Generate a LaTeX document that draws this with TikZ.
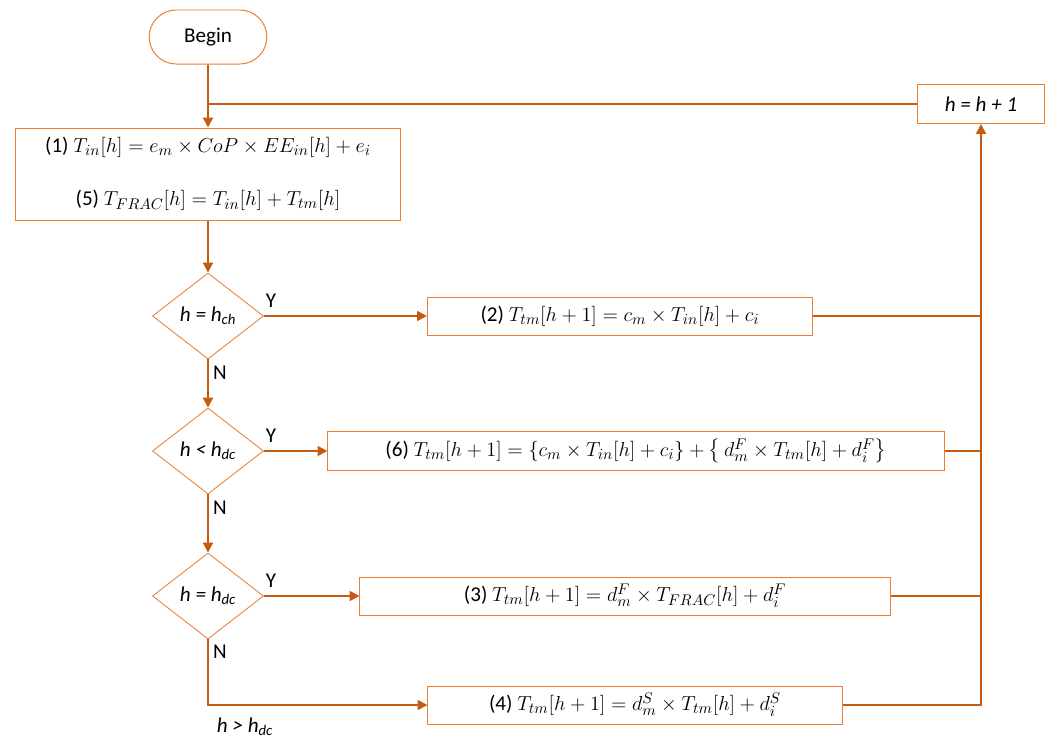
\documentclass[tikz,border=0pt]{standalone}
\usepackage{amsmath}
\usepackage{fontspec}
\setmainfont{Carlito}
\usetikzlibrary{arrows.meta,shapes.geometric,shapes.misc}
\definecolor{flowline}{HTML}{C55A11}
\definecolor{flowedge}{HTML}{ED7D31}
\tikzset{
	stepbox/.style={draw=flowedge,line width=0.7pt,rectangle,minimum height=0.95cm,inner sep=2pt},
	startbox/.style={draw=flowedge,line width=0.7pt,rounded rectangle,minimum width=3.175cm,minimum height=1.35cm},
	testbox/.style={draw=flowedge,line width=0.6pt,diamond,minimum width=2.775cm,minimum height=2.15cm,inner sep=0pt},
	flow/.style={draw=flowline,line width=1.4pt,-{Triangle[length=7pt,width=7pt]}},
	bus/.style={draw=flowline,line width=1.4pt},
}
\begin{document}
\begin{tikzpicture}[x=0.025cm,y=-0.025cm,font=\fontsize{15}{18}\selectfont]
	\useasboundingbox (0,0) rectangle (1051,738);
	%START AND LOOP
	\node[startbox] (begin) at (208,37) {Begin};
	\node[stepbox,minimum width=3.175cm,minimum height=0.975cm] (inc) at (981,104) {\itshape h = h + 1};
	\node[stepbox,minimum width=9.625cm,minimum height=2.3cm,align=center] (init) at (208,174)
		{(1) $T_{in}[h] = e_m \times CoP \times EE_{in}[h] + e_i$\\[0.7cm]
		 (5) $T_{FRAC}[h] = T_{in}[h] + T_{tm}[h]$};
	%
	%TESTS
	\node[testbox] (chk1) at (208,316) {\itshape h = h\textsubscript{ch}};
	\node[testbox] (chk2) at (208,451) {\itshape h < h\textsubscript{dc}};
	\node[testbox] (chk3) at (208,596) {\itshape h = h\textsubscript{dc}};
	%
	%UPDATES
	\node[stepbox,minimum width=9.625cm] (upd2) at (620,316) {(2) $T_{tm}[h+1] = c_m \times T_{in}[h] + c_i$};
	\node[stepbox,minimum width=15.4cm,minimum height=0.975cm] (upd6) at (636,451)
		{(6) $T_{tm}[h+1] = \{c_m \times T_{in}[h] + c_i\} + \bigl\{\, d^F_m \times T_{tm}[h] + d^F_i \bigr\}$};
	\node[stepbox,minimum width=13.25cm] (upd3) at (625,596) {(3) $T_{tm}[h+1] = d^F_m \times T_{FRAC}[h] + d^F_i$};
	\node[stepbox,minimum width=10.35cm] (upd4) at (635,705) {(4) $T_{tm}[h+1] = d^S_m \times T_{tm}[h] + d^S_i$};
	%
	%LABELS
	\node (yes1) at (271,301) {Y};
	\node (yes2) at (271,436) {Y};
	\node (yes3) at (271,581) {Y};
	\node (no1) at (220,373) {N};
	\node (no2) at (220,508) {N};
	\node (no3) at (220,652) {N};
	\node (later) at (245,727) {\itshape h > h\textsubscript{dc}};
	
	%CONNECTORS
	\coordinate (join) at (208,104);
	\draw[flow] (begin) -- (init);
	\draw[bus] (inc) -- (join);
	\draw[flow] (init) -- (chk1);
	\draw[flow] (chk1) -- (upd2);
	\draw[flow] (chk1) -- (chk2);
	\draw[flow] (chk2) -- (upd6);
	\draw[flow] (chk2) -- (chk3);
	\draw[flow] (chk3) -- (upd3);
	\draw[flow] (chk3) |- (upd4);
	%
	\draw[bus] (upd2.east) -- (upd2.east -| inc.south);
	\draw[bus] (upd6.east) -- (upd6.east -| inc.south);
	\draw[bus] (upd3.east) -- (upd3.east -| inc.south);
	\draw[flow] (upd4.east) -| (inc.south);
\end{tikzpicture}
\end{document}
